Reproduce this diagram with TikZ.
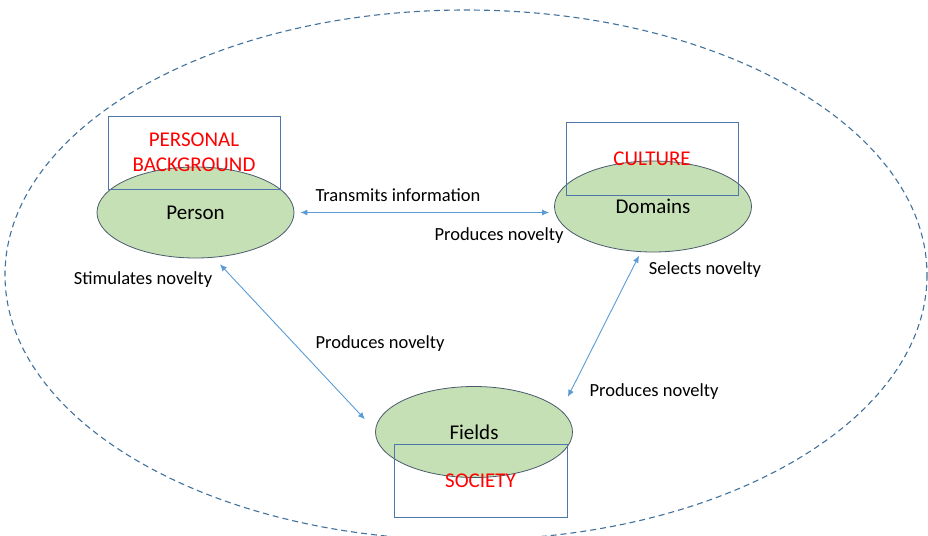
\documentclass[tikz,border=0pt]{standalone}
\usepackage{fontspec}
\setmainfont{Carlito}
\usetikzlibrary{shapes.geometric,arrows.meta}

\definecolor{leafgreen}{HTML}{C5E0B4}
\definecolor{slateedge}{HTML}{4B5B6E}
\definecolor{boxblue}{HTML}{4F76A8}
\definecolor{outerblue}{HTML}{41719C}
\definecolor{arrowblue}{HTML}{5B9BD5}

\tikzset{
  blob/.style={ellipse, draw=slateedge, fill=leafgreen, line width=0.8pt,
    minimum width=197pt, minimum height=91pt, inner sep=0pt,
    font=\fontsize{21}{25}\selectfont},
  tagbox/.style={rectangle, draw=boxblue, line width=0.9pt, inner sep=0pt,
    text=red, align=center, font=\fontsize{21}{25}\selectfont},
  link/.style={draw=arrowblue, line width=0.9pt,
    {Latex[length=7pt,width=6pt]}-{Latex[length=7pt,width=6pt]}},
  note/.style={font=\fontsize{18.5}{22}\selectfont, inner sep=0pt}
}

\begin{document}
\begin{tikzpicture}[x=1pt, y=-1pt]
  \useasboundingbox (0,0) rectangle (928,535);

  % outer dashed boundary
  \draw[outerblue, line width=1.1pt, dash pattern=on 6pt off 4pt]
    (466,275) ellipse [x radius=461, y radius=265];

  % the three systems
  \node[blob] (person)  at (195.5,212.5) {Person};
  \node[blob] (domains) at (653,206.5) {Domains};
  \node[blob] (fields)  at (474,432) {Fields};

  % context boxes
  \node[tagbox, minimum width=172pt, minimum height=73pt] (background)
    at (194,152.5) {PERSONAL\\BACKGROUND};
  \node[tagbox, minimum width=172pt, minimum height=73pt] (culture)
    at (652,158.5) {CULTURE};
  \node[tagbox, minimum width=173pt, minimum height=73pt] (society)
    at (480.5,480.5) {SOCIETY};

  % relations
  \draw[link, shorten <=6pt, shorten >=5pt]
    (person.east) -- (person.east -| domains.west);
  \draw[link, shorten <=9pt, shorten >=15pt]
    (person.-68) -- (fields.179);
  \draw[link, shorten <=4pt, shorten >=15pt]
    (domains.-105) -- (fields.14);

  % relation labels
  \node[note] (transmits) at (398,195) {Transmits information};
  \node[note] (prodtop)   at (499,236) {Produces novelty};
  \node[note] (stimulates) at (143,280) {Stimulates novelty};
  \node[note] (prodleft)  at (380,344) {Produces novelty};
  \node[note] (selects)   at (705,270) {Selects novelty};
  \node[note] (prodright) at (654,392) {Produces novelty};
\end{tikzpicture}
\end{document}
